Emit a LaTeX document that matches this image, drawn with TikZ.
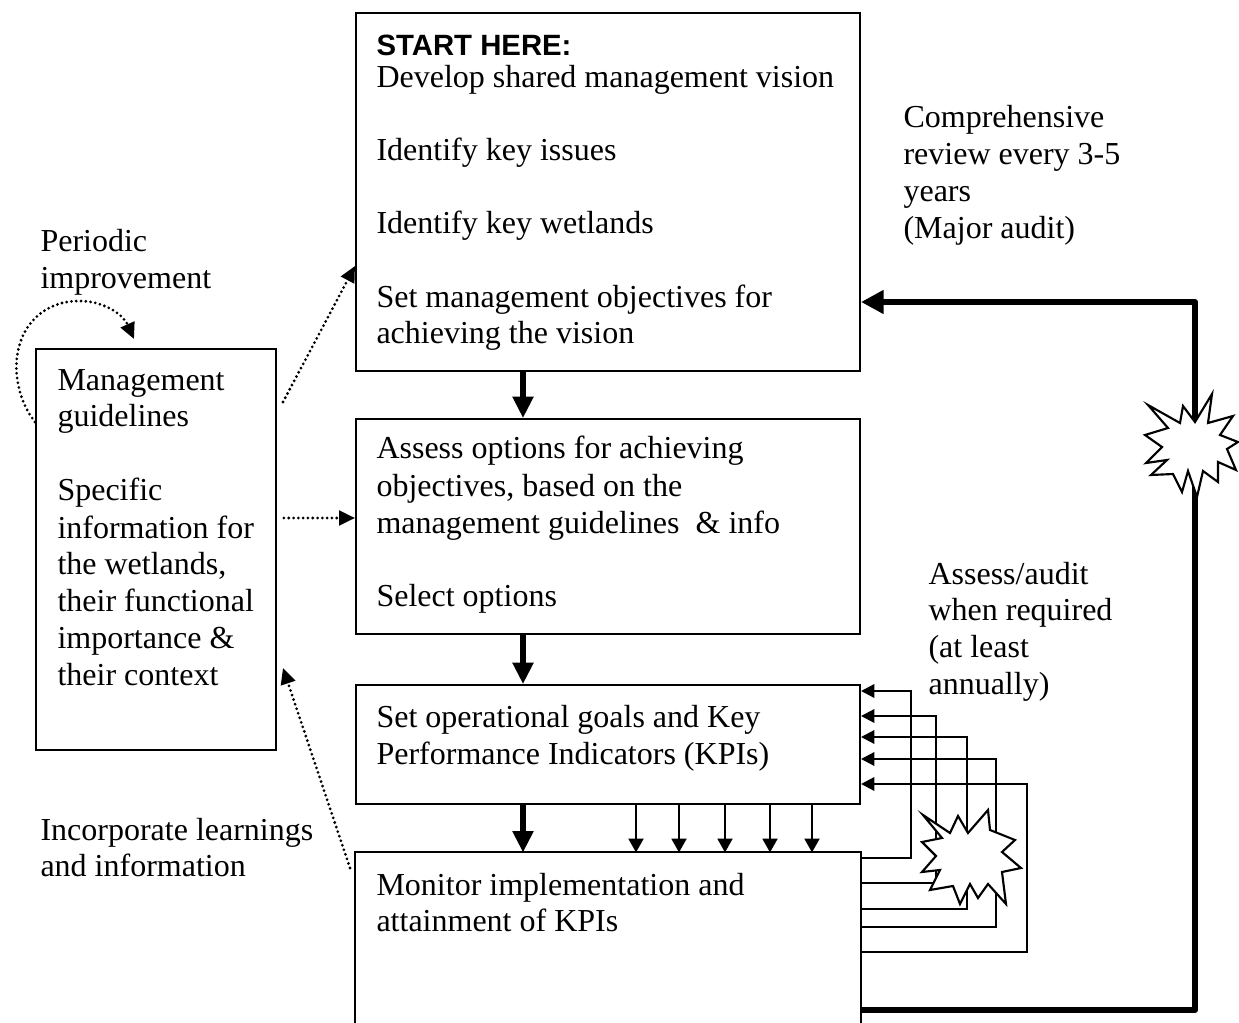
\documentclass[tikz,border=0pt]{standalone}
\usepackage{fontspec}
\setmainfont{Liberation Serif}
\newfontfamily\arialfont{Liberation Sans}
\usetikzlibrary{arrows.meta}
\begin{document}
\begin{tikzpicture}[x=0.375pt,y=-0.375pt,
 box/.style={draw, line width=0.75pt, inner sep=0pt},
 txt/.style={anchor=base west, inner sep=0pt, font=\fontsize{12}{14}\selectfont},
 thickarrow/.style={line width=1.9pt, -{Triangle[length=8pt,width=7.5pt]}},
 thinarrow/.style={line width=0.8pt, -{Triangle[length=5.2pt,width=5.6pt]}},
 fbline/.style={line width=0.85pt, -{Triangle[length=5pt,width=5pt]}},
 loopline/.style={line width=2.25pt, line join=round, -{Triangle[length=8.5pt,width=8.5pt]}},
 dotline/.style={line width=1.15pt, line cap=round, dash pattern=on 0pt off 1.8pt, -{Triangle[length=6pt,width=5.5pt]}},
 burst/.style={draw, fill=white, line width=0.8pt, line join=miter}]
\useasboundingbox (0,0) rectangle (1239,1023);

% boxes
\node[box, minimum width=189pt, minimum height=134.25pt] (b1) at (608,192) {};
\node[box, minimum width=189pt, minimum height=80.6pt] (b2) at (608,526.5) {};
\node[box, minimum width=189pt, minimum height=44.6pt] (b3) at (608,744.5) {};
\node[inner sep=0pt, minimum width=189pt, minimum height=63.75pt] (b4) at (608,938) {};
\draw[line width=0.75pt] (b4.south west) -- (b4.north west) -- (b4.north east) -- (b4.south east);
\node[box, minimum width=90pt, minimum height=150.4pt] (L) at (156,549.5) {};

% texts
\node[anchor=base west, inner sep=0pt, font=\arialfont\bfseries\fontsize{11}{13}\selectfont] (start) at (376,56) {START HERE:};
\foreach \y/\t [count=\i] in {88/{Develop shared management vision}, 161/{Identify key issues}, 234/{Identify key wetlands}, 308/{Set management objectives for}, 344/{achieving the vision}}
  \node[txt] (bone\i) at (376,\y) {\t};
\foreach \y/\t [count=\i] in {459/{Assess options for achieving}, 496/{objectives, based on the}, 533/{management guidelines \ \& info}, 606/{Select options}}
  \node[txt] (btwo\i) at (376,\y) {\t};
\foreach \y/\t [count=\i] in {727/{Set operational goals and Key}, 764/{Performance Indicators (KPIs)}}
  \node[txt] (bthree\i) at (376,\y) {\t};
\foreach \y/\t [count=\i] in {895/{Monitor implementation and}, 931/{attainment of KPIs}}
  \node[txt] (bfour\i) at (376,\y) {\t};
\foreach \y/\t [count=\i] in {391/{Management}, 427/{guidelines}, 501/{Specific}, 538/{information for}, 574/{the wetlands,}, 611/{their functional}, 648/{importance \&}, 685/{their context}}
  \node[txt] (left\i) at (57,\y) {\t};
\foreach \y/\t [count=\i] in {252/{Periodic}, 289/{improvement}}
  \node[txt] (per\i) at (40,\y) {\t};
\foreach \y/\t [count=\i] in {840/{Incorporate learnings}, 876/{and information}}
  \node[txt] (inc\i) at (40,\y) {\t};
\foreach \y/\t [count=\i] in {128/{Comprehensive}, 165/{review every 3-5}, 202/{years}, 239/{(Major audit)}}
  \node[txt] (comp\i) at (903,\y) {\t};
\foreach \y/\t [count=\i] in {584/{Assess/audit}, 620/{when required}, 657/{(at least}, 694/{annually)}}
  \node[txt] (aud\i) at (928,\y) {\t};

% main thick arrows
\coordinate (cx) at (523,0);
\draw[thickarrow] (b1.south -| cx) -- (b2.north -| cx);
\draw[thickarrow] (b2.south -| cx) -- (b3.north -| cx);
\draw[thickarrow] (b3.south -| cx) -- (b4.north -| cx);

% small arrows
\foreach \x [count=\i] in {636,679,725,770,812} {
  \coordinate (k\i) at (\x,0);
  \draw[thinarrow] (b3.south -| k\i) -- (b4.north -| k\i);
}

% feedback routes
\foreach \x/\top/\bot [count=\i] in {911/691/858, 936/716/883, 967/737/909, 996/759/927, 1027/784/952} {
  \coordinate (ft\i) at (\x,\top);
  \coordinate (fb\i) at (\x,\bot);
  \draw[fbline] (b4.east |- fb\i) -- (fb\i) -- (ft\i) -- (b3.east |- ft\i);
}

% big loop
\coordinate (lb) at (1195,1010);
\coordinate (lt) at (1195,302);
\draw[loopline] (b4.east |- lb) -- (lb) -- (lt) -- (b1.east |- lt);

% starbursts
\draw[burst] (1148,405) -- (1180,423) -- (1183,406) -- (1195,422) -- (1212,394) -- (1208,423)
  -- (1233,416) -- (1220,435) -- (1238,442) -- (1227,449) -- (1236,470) -- (1218,462)
  -- (1218,482) -- (1203,471) -- (1197,497) -- (1188,471) -- (1182,492) -- (1173,474)
  -- (1151,475) -- (1167,460) -- (1146,463) -- (1162,447) -- (1145,435) -- (1168,428) -- cycle;
\draw[burst] (923,815) -- (950,833) -- (958,816) -- (968,833) -- (988,810) -- (990,830)
  -- (1015,840) -- (1002,852) -- (1021,868) -- (1002,872) -- (1006,904) -- (988,884)
  -- (978,898) -- (970,884) -- (960,904) -- (953,886) -- (930,890) -- (940,870)
  -- (922,872) -- (936,856) -- (922,842) -- (942,838) -- cycle;

% dotted arrows
\coordinate (d1s) at (283,402);
\coordinate (d1e) at (0,266);
\draw[dotline] (d1s) -- (b1.west |- d1e);
\coordinate (d2) at (0,518);
\draw[dotline] ([xshift=2.6pt]L.east |- d2) -- (b2.west |- d2);
\coordinate (d3s) at (350,868);
\coordinate (d3e) at (283,668);
\draw[dotline] (d3s) -- (d3e);
\coordinate (p0) at (0,422);
\coordinate (p1) at (134,339);
\draw[dotline] (L.west |- p0) .. controls (6,385) and (8,318) .. (62,303)
  .. controls (95,295) and (122,312) .. (p1);
\end{tikzpicture}
\end{document}
